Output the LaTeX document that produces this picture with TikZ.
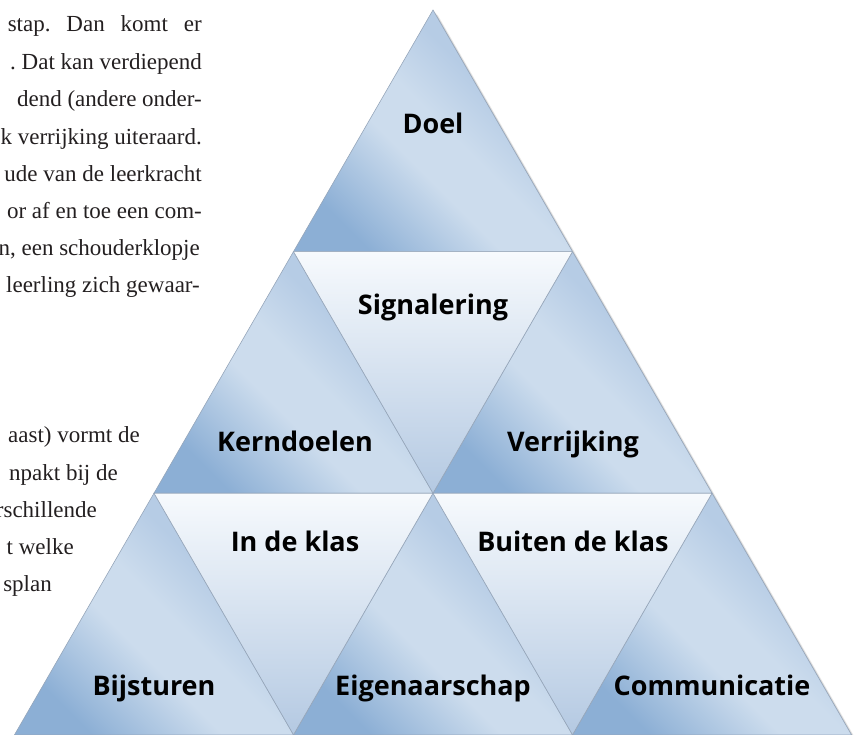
\documentclass[tikz,border=0pt]{standalone}
\usepackage{fontspec}
\setmainfont{Liberation Serif}
\setsansfont{Open Sans}
\frenchspacing
\definecolor{updark}{RGB}{140,175,213}
\definecolor{uplight}{RGB}{204,220,237}
\definecolor{upmid}{RGB}{182,204,229}
\definecolor{downtop}{RGB}{247,250,253}
\definecolor{downbot}{RGB}{180,201,226}
\definecolor{edge}{RGB}{150,166,186}
\definecolor{bodytext}{RGB}{35,31,32}
\pgfdeclarehorizontalshading{upshade}{100bp}{color(0bp)=(updark); color(25bp)=(updark); color(43bp)=(uplight); color(52bp)=(uplight); color(63bp)=(upmid); color(100bp)=(upmid)}
\tikzset{
  up/.style={draw=edge, line width=0.6pt, shading=upshade, shading angle=45},
  down/.style={draw=edge, line width=0.6pt, top color=downtop, bottom color=downbot},
  lbl/.style={font=\sffamily\bfseries\fontsize{27}{32}\selectfont, anchor=base, inner sep=0pt},
  body/.style={font=\fontsize{23}{28}\selectfont, anchor=base east, inner sep=0pt, text=bodytext}
}
\def\s{279}
\def\h{241.6}

\begin{document}
\begin{tikzpicture}[x=1pt,y=1pt]
  \useasboundingbox (0,0) rectangle (861,734);
  \clip (0,0) rectangle (861,734);
  % tekst links
  \node[body] (t1) at (202,702) {\makebox[194pt][s]{stap. Dan komt er}};
  \node[body] (t2) at (202,664) {. Dat kan verdiepend};
  \node[body] (t3) at (202,627) {dend (andere onder-};
  \node[body] (t4) at (202,589) {k verrijking uiteraard.};
  \node[body] (t5) at (202,552) {ude van de leerkracht};
  \node[body] (t6) at (202,515) {or af en toe een com-};
  \node[body] (t7) at (200,478) {n, een schouderklopje};
  \node[body] (t8) at (200,441) {leerling zich gewaar-};
  \node[body] (u1) at (140,292) {aast) vormt de};
  \node[body] (u2) at (118,254) {npakt bij de};
  \node[body] (u3) at (97,217) {rschillende};
  \node[body] (u4) at (74,180) {t welke};
  \node[body] (u5) at (52,143) {splan};
  % schaduw
  \foreach \k in {1,...,8}
    \fill[black, opacity=0.03] (14.5+0.6*\k,-0.8-0.6*\k) -- (851.5+0.6*\k,-0.8-0.6*\k) -- (433+0.6*\k,724-0.6*\k) -- cycle;
  % roosterpunten
  \foreach \a/\b in {0/0,1/0,2/0,3/0,0/1,1/1,2/1,0/2,1/2,0/3}
    \coordinate (p\a\b) at (14.5+\a*\s+\b*\s/2, -0.8+\b*\h);
  \foreach \a/\b in {0/0,1/0,2/0,0/1,1/1,0/2}
    \shade[up] (p\a\b) -- ++(\s,0) -- ++(-\s/2,\h) -- cycle;
  \foreach \a/\b in {0/0,1/0,0/1}
    \shade[down] (p\a\b) ++(\s,0) -- ++(-\s/2,\h) -- ++(\s,0) -- cycle;
  % labels
  \node[lbl] (doel) at (433,600.7) {Doel};
  \node[lbl] (sign) at (433,419) {Signalering};
  \node[lbl] (kern) at (295,282.3) {Kerndoelen};
  \node[lbl] (verr) at (573,282.3) {Verrijking};
  \node[lbl] (inkl) at (295,182.3) {In de klas};
  \node[lbl] (buit) at (573,182.3) {Buiten de klas};
  \node[lbl] (bijs) at (154,39) {Bijsturen};
  \node[lbl] (eige) at (433,39) {Eigenaarschap};
  \node[lbl] (comm) at (712,39) {Communicatie};
\end{tikzpicture}
\end{document}
